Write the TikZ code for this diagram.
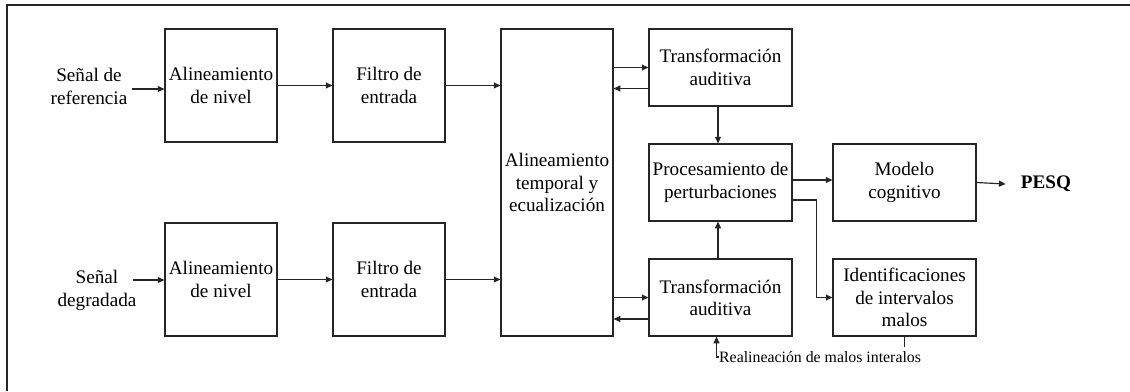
\documentclass[tikz,border=0pt]{standalone}
\usepackage{fontspec}
\setmainfont{Liberation Serif}
\usetikzlibrary{arrows.meta}
\begin{document}
\begin{tikzpicture}[x=0.6pt,y=-0.6pt,
  every node/.style={font=\fontsize{11.5}{13.4}\selectfont},
  box/.style={draw=black!85,line width=0.7pt,align=center,inner sep=1pt},
  lbl/.style={align=center,inner sep=0pt},
  arr/.style={draw=black!85,line width=0.7pt,-{Triangle[length=4pt,width=3.6pt]}},
  ln/.style={draw=black!85,line width=0.7pt}]
\useasboundingbox (0,0) rectangle (1130,391);
\draw[ln] (1130,5) -- (7,5) -- (7,391);
% boxes
\node[box,minimum width=112*0.6pt,minimum height=113*0.6pt] (an1) at (221,85.5) {Alineamiento\\de nivel};
\node[box,minimum width=112*0.6pt,minimum height=113*0.6pt] (fe1) at (389,85.5) {Filtro de\\entrada};
\node[box,minimum width=112*0.6pt,minimum height=113*0.6pt] (an2) at (221,279.5) {Alineamiento\\de nivel};
\node[box,minimum width=112*0.6pt,minimum height=113*0.6pt] (fe2) at (389,279.5) {Filtro de\\entrada};
\node[box,minimum width=112*0.6pt,minimum height=307*0.6pt] (at) at (557,182.5) {Alineamiento\\temporal y\\ecualización};
\node[box,minimum width=143*0.6pt,minimum height=77*0.6pt] (ta1) at (720.5,67.5) {Transformación\\auditiva};
\node[box,minimum width=143*0.6pt,minimum height=77*0.6pt] (pp) at (720.5,182.5) {Procesamiento de\\perturbaciones};
\node[box,minimum width=143*0.6pt,minimum height=77*0.6pt] (ta2) at (720.5,297.5) {Transformación\\auditiva};
\node[box,minimum width=143*0.6pt,minimum height=77*0.6pt] (mc) at (904.5,182.5) {Modelo\\cognitivo};
\node[box,minimum width=143*0.6pt,minimum height=77*0.6pt] (iim) at (904.5,297.5) {Identificaciones\\de intervalos\\malos};
% labels
\node[lbl] (sref) at (89,86.5) {Señal de\\referencia};
\node[lbl] (sdeg) at (97,290.5) {Señal\\degradada};
\node[lbl,font=\fontsize{11.5}{13.4}\selectfont\bfseries] (pesq) at (1046,184) {PESQ};
\node[anchor=west,inner xsep=2pt,inner ysep=0pt,font=\fontsize{9.5}{11}\selectfont] (real) at (715.5,357) {Realineación de malos interalos};
% inputs
\coordinate (inref) at (132,89);
\coordinate (indeg) at (133,280);
\draw[arr] (inref) -- (inref -| an1.west);
\draw[arr] (indeg) -- (indeg -| an2.west);
% chains
\draw[arr] (an1.east) -- (fe1.west);
\draw[arr] (an2.east) -- (fe2.west);
\draw[arr] (fe1.east) -- (fe1.east -| at.west);
\draw[arr] (fe2.east) -- (fe2.east -| at.west);
% AT <-> TA
\draw[arr] (ta1.west -| at.east) -- (ta1.west);
\draw[arr] ([yshift=-12.6pt]ta1.west) -- ([yshift=-12.6pt]ta1.west -| at.east);
\draw[arr] (ta2.west -| at.east) -- (ta2.west);
\draw[arr] ([yshift=-12.9pt]ta2.west) -- ([yshift=-12.9pt]ta2.west -| at.east);
% to processing
\draw[arr] ([xshift=-1.5pt]ta1.south) -- ([xshift=-1.5pt]pp.north);
\draw[arr] ([xshift=-1.5pt]ta2.north) -- ([xshift=-1.5pt]pp.south);
\draw[arr] ([yshift=1.5pt]pp.east) -- ([yshift=1.5pt]mc.west);
\draw[arr] ([yshift=-10.5pt]pp.east) -- ++(24,0) |- (iim.west);
\draw[arr] (mc.east) -- ([xshift=-9pt]pesq.west);
% realignment
\draw[ln] (iim.south) -- ++(0,10);
\draw[arr] ([xshift=2pt]real.west) -| ([xshift=-2.4pt]ta2.south);
\end{tikzpicture}
\end{document}
